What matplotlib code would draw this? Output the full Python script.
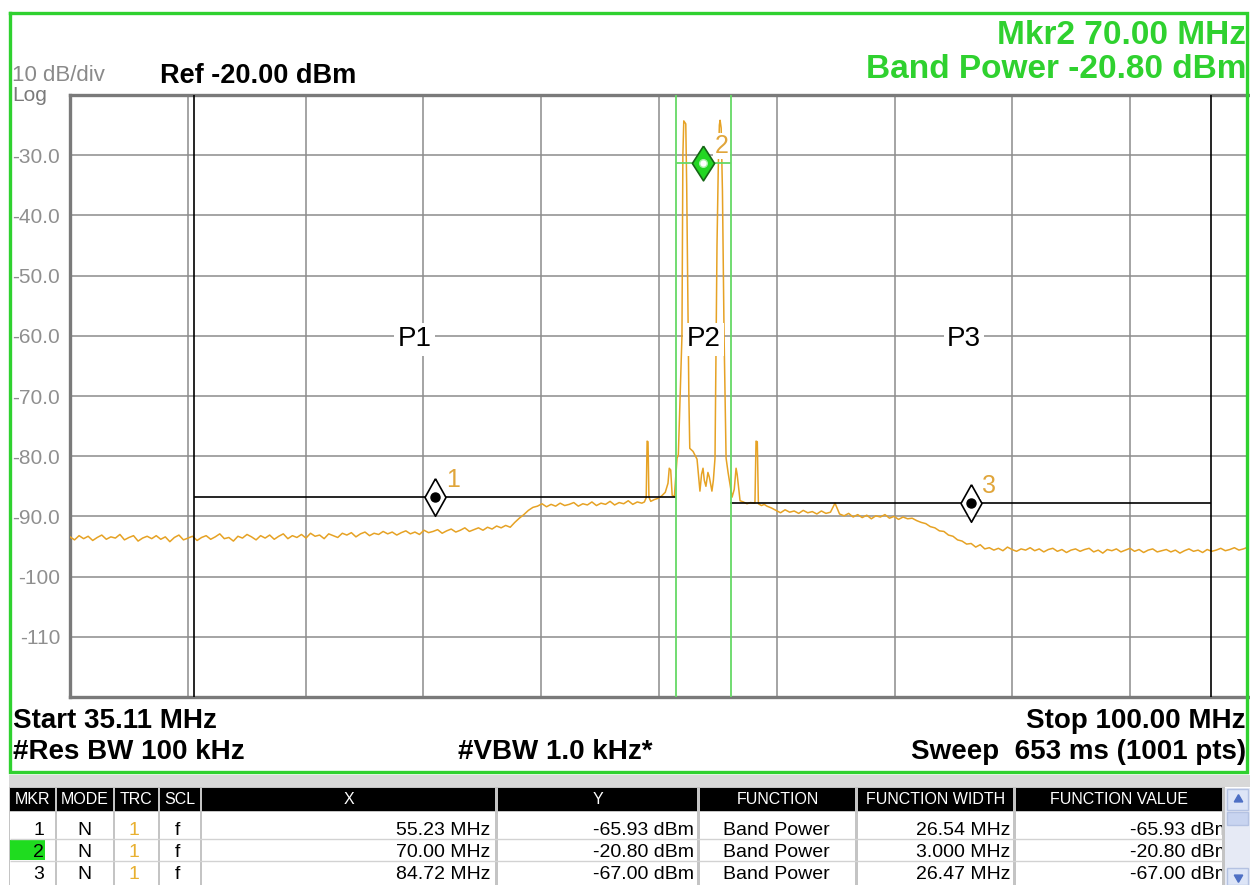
import matplotlib.pyplot as plt
import numpy as np
from matplotlib.patches import Rectangle

plt.rcParams['font.family'] = ['Liberation Sans', 'DejaVu Sans']

W, H = 1250, 885

# sweep
start_mhz, stop_mhz = 35.11, 100.00
step_mhz = 0.25

# trace 1, noise floor below the carriers (one reading per 0.25 MHz from start)
left_dbm = [
    -93.4, -93.9, -93.2, -93.7, -93.3, -94.0, -93.5, -93.1, -93.8, -93.4,
    -93.6, -93.0, -93.9, -93.5, -93.2, -94.1, -93.6, -93.3, -93.7, -93.2,
    -93.8, -93.4, -94.2, -93.5, -93.1, -93.9, -93.6, -93.3, -94.0, -93.5,
    -93.2, -93.8, -93.4, -92.9, -93.7, -93.5, -94.1, -93.3, -93.6, -93.0,
    -93.4, -93.9, -93.2, -93.6, -93.1, -93.8, -93.3, -92.9, -93.7, -93.2,
    -93.5, -93.0, -93.6, -92.8, -93.3, -93.1, -93.7, -92.9, -93.2, -93.5,
    -92.8, -93.1, -92.7, -93.4, -92.9, -92.6, -93.2, -92.8, -93.0, -92.5,
    -92.9, -92.6, -93.1, -92.7, -92.4, -92.9, -92.6, -93.0, -92.3, -92.7,
    -92.5, -92.2, -92.8, -92.4, -92.1, -92.6, -92.3, -91.9, -92.5, -92.2,
    -91.9, -92.3, -91.8, -92.1, -91.6, -91.9, -91.5, -91.8, -91.0, -90.3,
    -89.7, -89.0, -88.5, -88.3, -87.9, -88.4, -88.0, -88.3, -87.8, -88.2,
    -88.0, -87.7, -88.3, -87.9, -88.1, -87.6, -88.2, -87.8, -88.0, -87.5,
    -88.1, -87.7, -87.9, -87.4, -88.0, -87.6, -87.8,
]

# around the two carriers, read point by point
mid_mhz = [
    66.75, 66.85, 66.90, 66.95, 67.00, 67.10, 67.30, 67.50, 67.70, 67.90,
    68.05, 68.12, 68.20, 68.28, 68.40, 68.55, 68.62, 68.82, 68.87, 68.92,
    69.03, 69.08, 69.20, 69.25, 69.43, 69.65, 69.81, 69.90, 69.98, 70.05,
    70.14, 70.25, 70.33, 70.47, 70.55, 70.64, 70.75, 70.82, 70.88, 70.92,
    70.98, 71.05, 71.14, 71.25, 71.36, 71.48, 71.58, 71.70, 71.80, 71.86,
    72.02, 72.20, 72.40, 72.60, 72.84, 72.90, 72.97, 73.03, 73.20, 73.35,
]
mid_dbm = [
    -87.6, -86.9, -77.5, -77.6, -86.8, -87.5, -87.2, -87.0, -86.6, -86.0,
    -84.5, -82.0, -82.3, -86.5, -86.7, -80.3, -79.8, -60.0, -30.0, -24.3,
    -24.8, -35.0, -70.0, -78.7, -79.2, -80.5, -85.8, -83.0, -82.0, -84.0,
    -85.0, -82.7, -83.5, -85.8, -84.0, -80.3, -45.0, -32.0, -25.0, -24.2,
    -25.5, -36.0, -60.0, -80.3, -82.7, -85.0, -86.8, -85.5, -82.0, -83.0,
    -87.4, -87.6, -87.9, -87.7, -87.8, -77.5, -77.6, -87.9, -88.2, -88.0,
]

# noise floor above the carriers, from 73.50 MHz on
right_start_mhz = 73.50
right_dbm = [
    -88.3, -88.6, -89.0, -89.4, -88.9, -89.3, -89.1, -89.5, -89.0, -89.4,
    -89.2, -89.6, -89.1, -89.5, -89.3, -87.8, -89.6, -89.9, -89.5, -90.1,
    -89.7, -90.2, -89.8, -90.4, -89.9, -90.1, -89.7, -90.3, -90.0, -90.5,
    -90.1, -90.4, -90.3, -90.7, -91.0, -91.2, -91.7, -91.9, -92.4, -92.5,
    -93.1, -93.3, -93.9, -94.1, -94.6, -94.5, -95.1, -94.7, -95.4, -95.2,
    -95.6, -95.3, -95.7, -95.1, -95.5, -95.8, -95.4, -95.6, -95.2, -95.7,
    -95.4, -95.9, -95.5, -95.3, -95.8, -95.5, -96.0, -95.6, -95.4, -95.8,
    -95.5, -95.3, -95.9, -95.6, -96.1, -95.5, -95.7, -95.4, -95.9, -95.6,
    -95.3, -95.8, -95.5, -96.0, -95.6, -95.4, -95.9, -95.7, -95.5, -95.9,
    -95.6, -96.1, -95.7, -95.4, -95.8, -95.6, -96.0, -95.5, -95.8, -95.6,
    -95.3, -95.7, -95.5, -95.2, -95.6, -95.4, -95.1,
]

# markers / band power functions
mkr_num = ['1', '2', '3']
mkr_mhz = [55.23, 70.00, 84.72]
mkr_width_mhz = [26.54, 3.000, 26.47]
mkr_line_dbm = [-86.7, -31.3, -87.8]
mkr_x_txt = ['55.23 MHz', '70.00 MHz', '84.72 MHz']
mkr_y_txt = ['-65.93 dBm', '-20.80 dBm', '-67.00 dBm']
mkr_fw_txt = ['26.54 MHz', '3.000 MHz', '26.47 MHz']
mkr_fv_txt = ['-65.93 dBm', '-20.80 dBm', '-67.00 dBm']

band_names = ['P1', 'P2', 'P3']
band_label_mhz = [54.10, 70.00, 84.36]
band_label_dbm = -60.6

ytick_vals = [-30, -40, -50, -60, -70, -80, -90, -100, -110]
ytick_txt = ['-30.0', '-40.0', '-50.0', '-60.0', '-70.0', '-80.0', '-90.0', '-100', '-110']

GREEN = '#2fd12f'
LGREEN = '#66d966'
ORANGE = '#e6a224'
GRID = '#8c8c8c'

left_mhz = start_mhz + step_mhz * np.arange(len(left_dbm))
right_mhz = right_start_mhz + step_mhz * np.arange(len(right_dbm))
trace_mhz = np.concatenate([left_mhz, mid_mhz, right_mhz])
trace_dbm = np.concatenate([left_dbm, mid_dbm, right_dbm])

fig = plt.figure(figsize=(W / 100, H / 100), dpi=100)
fig.patch.set_facecolor('white')

# ---- graticule ----
ax = fig.add_axes([70 / W, 1 - 697 / H, 1178 / W, 602 / H], zorder=2)
ax.set_xlim(start_mhz, stop_mhz)
ax.set_ylim(-120, -20)
span = stop_mhz - start_mhz
ax.set_xticks([start_mhz + k * span / 10 for k in range(1, 10)])
ax.set_yticks(ytick_vals)
ax.set_yticklabels(ytick_txt)
ax.tick_params(axis='x', length=0, labelbottom=False)
ax.tick_params(axis='y', length=0, pad=7, labelsize=15, labelcolor='#8f8f8f')
ax.grid(True, color=GRID, lw=1.1)
ax.set_axisbelow(True)
for s in ['left', 'top', 'bottom']:
    ax.spines[s].set_color('#7a7a7a')
    ax.spines[s].set_linewidth(2.4)
ax.spines['right'].set_visible(False)

ax.plot(trace_mhz, trace_dbm, color=ORANGE, lw=1.1, zorder=3)

# band edges and band density lines
lo = [f - w / 2 for f, w in zip(mkr_mhz, mkr_width_mhz)]
hi = [f + w / 2 for f, w in zip(mkr_mhz, mkr_width_mhz)]
ax.vlines([lo[0], hi[2]], -120, -20, color='black', lw=1.2, zorder=4)
ax.hlines([mkr_line_dbm[0], mkr_line_dbm[2]], [lo[0], lo[2]], [hi[0], hi[2]],
          color='black', lw=1.2, zorder=4)
ax.vlines([lo[1], hi[1]], -120, -20, color=LGREEN, lw=1.3, zorder=4)
ax.hlines(mkr_line_dbm[1], lo[1], hi[1], color=LGREEN, lw=1.3, zorder=4)

diamond = [(0, 1), (0.56, 0), (0, -1), (-0.56, 0), (0, 1)]
diamond2 = [(0, 1), (0.64, 0), (0, -1), (-0.64, 0), (0, 1)]
for i in (0, 2):
    ax.plot(mkr_mhz[i], mkr_line_dbm[i], marker=diamond, ms=27, mfc='white',
            mec='black', mew=1.2, zorder=6)
    ax.plot(mkr_mhz[i], mkr_line_dbm[i], 'o', ms=6.5, color='black', zorder=7)
ax.plot(mkr_mhz[1], mkr_line_dbm[1], marker=diamond2, ms=25, mfc='#22d622',
        mec='#156615', mew=1.2, zorder=6)
ax.plot(mkr_mhz[1], mkr_line_dbm[1], 'o', ms=5.5, mfc='white', mec='#a8f0a8',
        mew=1.0, zorder=7)

for i, n in enumerate(mkr_num):
    ax.annotate(n, (mkr_mhz[i], mkr_line_dbm[i]), xytext=(18, 17),
                textcoords='offset pixels', ha='center', va='center',
                fontsize=18, color='#e0a53a', zorder=8,
                bbox=dict(boxstyle='square,pad=0.05', fc='white', ec='none'))

for name, f in zip(band_names, band_label_mhz):
    ax.text(f, band_label_dbm, name, ha='center', va='center', fontsize=20,
            color='black', zorder=8,
            bbox=dict(boxstyle='square,pad=0.12', fc='white', ec='none'))

# ---- screen overlay (pixel coordinates) ----
ov = fig.add_axes([0, 0, 1, 1], zorder=3)
ov.set_xlim(0, W)
ov.set_ylim(H, 0)
ov.axis('off')
ov.patch.set_facecolor('none')

ov.plot([10, 1247, 1247, 10, 10], [13, 13, 772, 772, 13], color=GREEN, lw=2.4,
        solid_joinstyle='miter')

ov.text(1246, 44, 'Mkr2 70.00 MHz', ha='right', va='baseline', fontsize=24,
        fontweight='bold', color=GREEN)
ov.text(1246, 78, 'Band Power -20.80 dBm', ha='right', va='baseline',
        fontsize=24, fontweight='bold', color=GREEN)
ov.text(12, 81, '10 dB/div', ha='left', va='baseline', fontsize=16, color='#8a8a8a')
ov.text(12, 101, 'Log', ha='left', va='baseline', fontsize=15, color='#7a7a7a')
ov.text(160, 83, 'Ref -20.00 dBm', ha='left', va='baseline', fontsize=19.5,
        fontweight='bold', color='black')

ov.text(13, 728, 'Start 35.11 MHz', ha='left', va='baseline', fontsize=20,
        fontweight='bold')
ov.text(1246, 728, 'Stop 100.00 MHz', ha='right', va='baseline', fontsize=20,
        fontweight='bold')
ov.text(13, 759, '#Res BW 100 kHz', ha='left', va='baseline', fontsize=20,
        fontweight='bold')
ov.text(458, 759, '#VBW 1.0 kHz*', ha='left', va='baseline', fontsize=20,
        fontweight='bold')
ov.text(1246, 759, 'Sweep  653 ms (1001 pts)', ha='right', va='baseline',
        fontsize=20, fontweight='bold')

# ---- marker table ----
cols = [('MKR', 10, 55), ('MODE', 57, 113), ('TRC', 115, 158), ('SCL', 160, 200),
        ('X', 202, 495), ('Y', 498, 697), ('FUNCTION', 700, 855),
        ('FUNCTION WIDTH', 858, 1013), ('FUNCTION VALUE', 1016, 1222)]

ov.add_patch(Rectangle((9, 775), 1241, 12, fc='#d8d8d8', ec='none'))
ov.add_patch(Rectangle((9, 787), 1216, 98, fc='#c4c4c4', ec='none'))
for name, x0, x1 in cols:
    ov.add_patch(Rectangle((x0, 788), x1 - x0, 23, fc='black', ec='none'))
    ov.text((x0 + x1) / 2, 800, name, ha='center', va='center', fontsize=11.5,
            color='white')
    ov.add_patch(Rectangle((x0, 812), x1 - x0, 73, fc='white', ec='none'))
ov.hlines([839, 861], 10, 1222, color='#d2d2d2', lw=1)
ov.add_patch(Rectangle((10, 840), 35, 20, fc='#1fdc1f', ec='none'))

row_y = [835, 857, 879]
clip = Rectangle((1016, 812), 206, 73, transform=ov.transData)
for r in range(3):
    y = row_y[r]
    ov.text(44, y, mkr_num[r], ha='right', va='baseline', fontsize=14)
    ov.text(84, y, 'N', ha='center', va='baseline', fontsize=14)
    ov.text(134, y, '1', ha='center', va='baseline', fontsize=14, color='#e8b030')
    ov.text(177, y, 'f', ha='center', va='baseline', fontsize=14)
    ov.text(490, y, mkr_x_txt[r], ha='right', va='baseline', fontsize=14)
    ov.text(694, y, mkr_y_txt[r], ha='right', va='baseline', fontsize=14)
    ov.text(776, y, 'Band Power', ha='center', va='baseline', fontsize=14)
    ov.text(1010, y, mkr_fw_txt[r], ha='right', va='baseline', fontsize=14)
    t = ov.text(1231, y, mkr_fv_txt[r], ha='right', va='baseline', fontsize=14,
                clip_on=True)
    t.set_clip_path(clip)

# scrollbar
ov.add_patch(Rectangle((1225, 788), 25, 97, fc='#e6eaf5', ec='none'))
ov.add_patch(Rectangle((1227, 789), 21, 21, fc='#dde5f7', ec='#b4c2e2', lw=1))
ov.add_patch(Rectangle((1227, 812), 21, 13, fc='#c8d4f0', ec='#b4c2e2', lw=1))
ov.add_patch(Rectangle((1227, 868), 21, 17, fc='#dde5f7', ec='#b4c2e2', lw=1))
ov.plot(1237.5, 799, marker=(3, 0, 0), ms=7, color='#4d6fc4')
ov.plot(1237.5, 877, marker=(3, 0, 180), ms=7, color='#4d6fc4')

fig.savefig('out.png', dpi=100)
